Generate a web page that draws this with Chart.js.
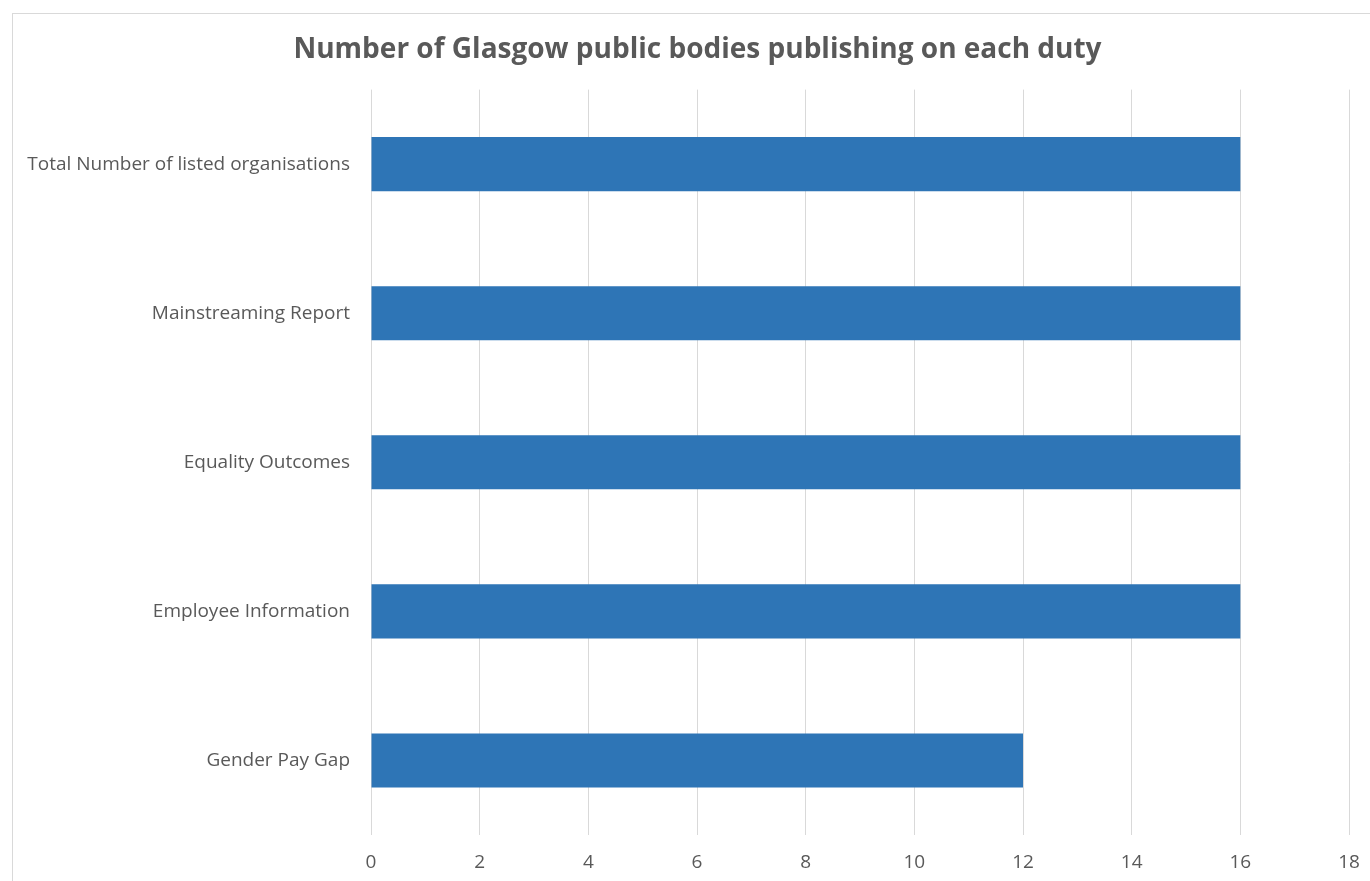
<!DOCTYPE html>
<html>
<head>
<meta charset="utf-8">
<script src="https://cdn.jsdelivr.net/npm/chart.js@4/dist/chart.umd.min.js"></script>
<style>
  html, body { margin: 0; padding: 0; background: #fff; overflow: hidden; }
  #frame { position: absolute; left: 12px; top: 13px; width: 1400px; height: 900px; border: 1px solid #d9d9d9; }
  #chart { position: absolute; left: 0; top: 0; }
</style>
</head>
<body>
<div id="frame"></div>
<canvas id="chart" width="1370" height="881"></canvas>
<script>
// ===== DATA =====
const duties = [
  "Total Number of listed organisations",
  "Mainstreaming Report",
  "Equality Outcomes",
  "Employee Information",
  "Gender Pay Gap"
];
const bodiesPublishing = [16, 16, 16, 16, 12];
const axisMin = 0, axisMax = 18, axisStep = 2;

const textGrey = "#595959";
const fontFamily = "'Open Sans', Lato, sans-serif";

// centre the title over the whole frame, not just the padded area
const titleSpan = {
  id: "titleSpan",
  afterLayout(chart) {
    const t = chart.titleBlock;
    t.left = 25;
    t.right = 1370;
    t.width = t.right - t.left;
  }
};

// ===== CHART =====
new Chart(document.getElementById("chart"), {
  type: "bar",
  data: {
    labels: duties,
    datasets: [{
      data: bodiesPublishing,
      backgroundColor: "#2e75b6",
      barPercentage: 0.9,
      categoryPercentage: 0.403
    }]
  },
  options: {
    indexAxis: "y",
    responsive: false,
    devicePixelRatio: 1,
    animation: false,
    layout: { padding: { left: 0, right: 21, top: 0, bottom: 0 } },
    plugins: {
      legend: { display: false },
      tooltip: { enabled: false },
      title: {
        display: true,
        text: "Number of Glasgow public bodies publishing on each duty",
        color: textGrey,
        font: { family: fontFamily, size: 28, weight: "bold" },
        padding: { top: 33, bottom: 23 }
      }
    },
    scales: {
      x: {
        min: axisMin,
        max: axisMax,
        ticks: { stepSize: axisStep, color: textGrey, font: { family: fontFamily, size: 19 }, padding: 16 },
        grid: { color: "#d9d9d9", drawTicks: false },
        border: { display: false },
        afterFit: s => { s.height = 46; s.paddingLeft = 0; s.paddingRight = 0; }
      },
      y: {
        ticks: { color: textGrey, font: { family: fontFamily, size: 19 }, padding: 21 },
        grid: { display: false, drawTicks: false },
        border: { display: false },
        afterFit: s => { s.width = 371; }
      }
    }
  },
  plugins: [titleSpan]
});
</script>
</body>
</html>
